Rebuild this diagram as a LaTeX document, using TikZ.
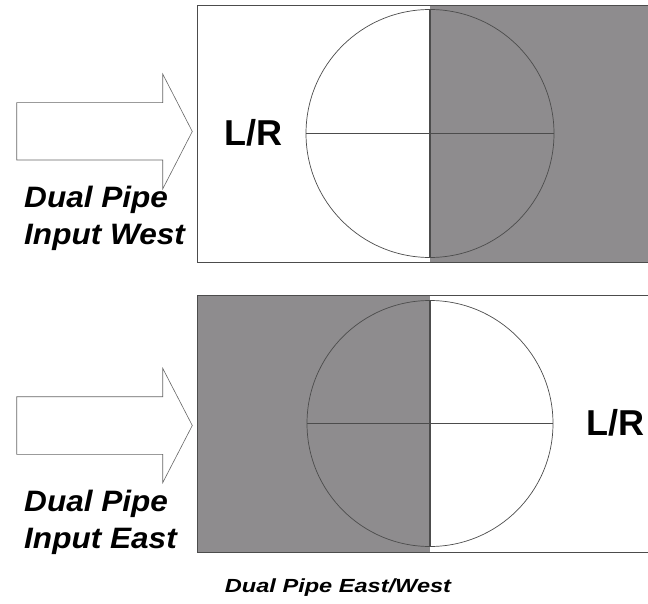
\documentclass[tikz,border=0pt]{standalone}
\usepackage{fontspec}
\setmainfont{Liberation Sans}
\begin{document}
\begin{tikzpicture}[x=1pt,y=-1pt,
  frame/.style={draw=black!70,line width=0.8pt},
  shade/.style={fill={rgb,255:red,142;green,140;blue,142}},
  circ/.style={draw=black!70,line width=0.7pt},
  axis/.style={draw=black!70,line width=1.1pt},
  blockarrow/.style={draw=black!60,line width=0.6pt,fill=white},
  lr/.style={font=\fontsize{36}{40}\selectfont\bfseries,inner sep=0pt},
  side/.style={font=\fontsize{29.5}{34}\selectfont\bfseries\itshape,inner sep=0pt,xscale=1.07,anchor=base west},
  captext/.style={font=\fontsize{19}{22}\selectfont\bfseries\itshape,inner sep=0pt,xscale=1.24,anchor=base}]
\useasboundingbox (0,0) rectangle (648,604);
% top panel
\fill[white] (197,5) rectangle (648,262);
\fill[shade] (430,5) rectangle (648,262);
\draw[frame] (648,5) -- (197,5) -- (197,262) -- (648,262);
\draw[circ] (430,133.5) circle (124);
\draw[axis] (306,133.5) -- (554,133.5);
\draw[axis] (430,9.5) -- (430,257.5);
\node[lr,anchor=base] (lrA) at (253,145.7) {L/R};
% bottom panel
\fill[shade] (197,295) rectangle (430,552.7);
\draw[frame] (648,295) -- (197,295) -- (197,552.7) -- (648,552.7);
\draw[circ] (430,423.5) circle (123);
\draw[axis] (307,423.5) -- (553,423.5);
\draw[axis] (430,300.5) -- (430,546.5);
\node[lr,anchor=base] (lrB) at (615,435.7) {L/R};
% arrows
\draw[blockarrow] (16.7,102.7) -- (162.7,102.7) -- (162.7,74) -- (192.3,131.5) -- (162.7,189) -- (162.7,160) -- (16.7,160) -- cycle;
\draw[blockarrow] (16.7,396.7) -- (162.7,396.7) -- (162.7,368.3) -- (192.3,425.5) -- (162.7,482.7) -- (162.7,454.3) -- (16.7,454.3) -- cycle;
% labels
\node[side] (w1) at (24,207.3) {Dual Pipe};
\node[side] (w2) at (24,245) {Input West};
\node[side] (e1) at (24,511.7) {Dual Pipe};
\node[side] (e2) at (24,548) {Input East};
\node[captext] (caption) at (338,592.5) {Dual Pipe East/West};
\end{tikzpicture}
\end{document}
